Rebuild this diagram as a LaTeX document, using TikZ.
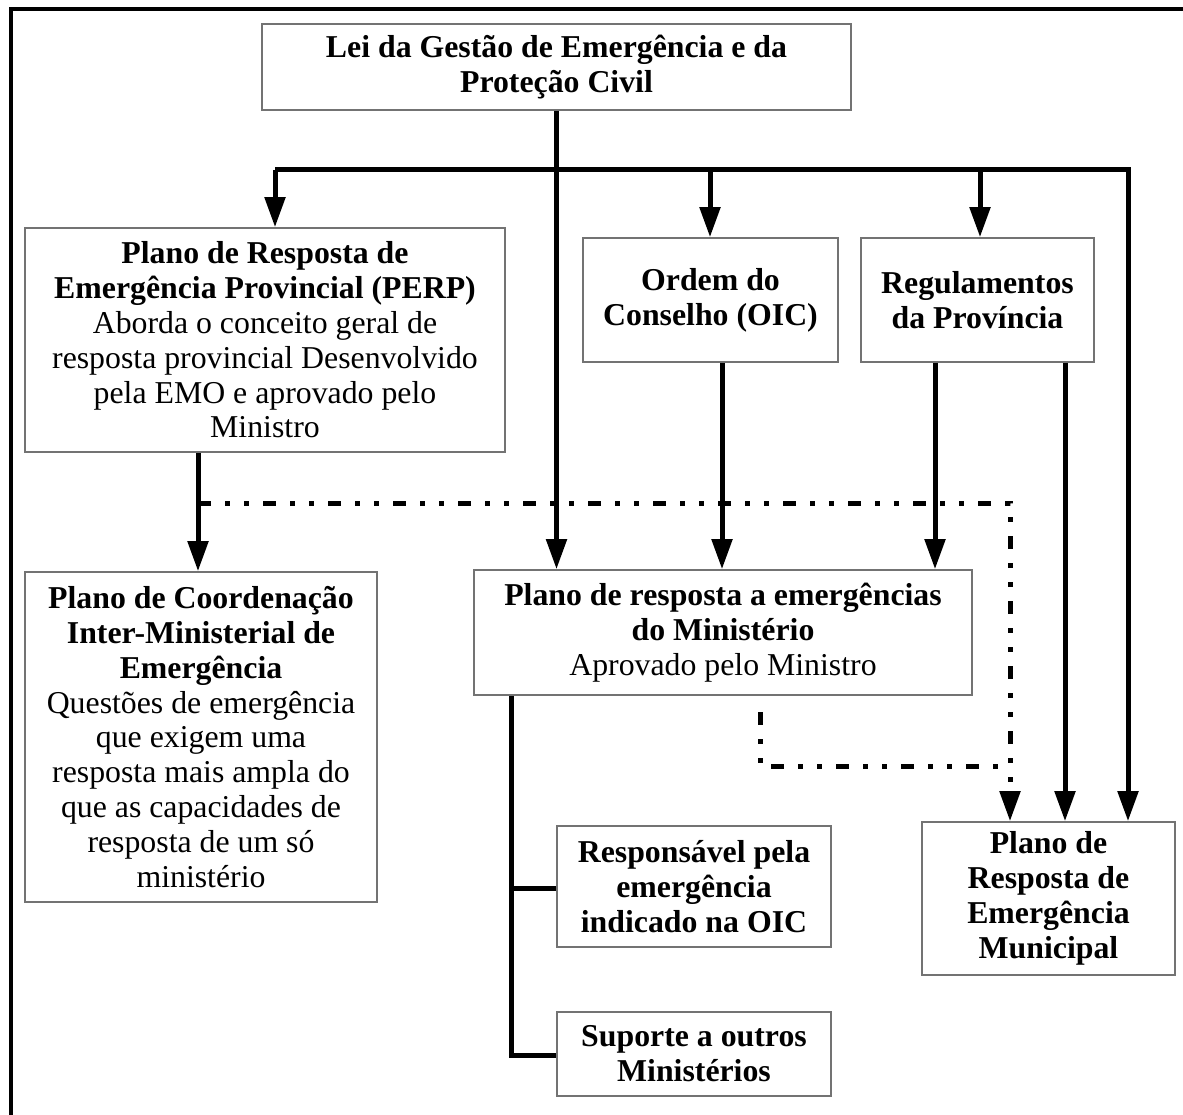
\documentclass[tikz,border=0pt]{standalone}
\usepackage{fontspec}
\setmainfont{Liberation Serif}
\usetikzlibrary{arrows.meta}
\begin{document}
\begin{tikzpicture}[x=1pt,y=-1pt,
  box/.style={draw=black!55,line width=1.6pt,fill=white,inner sep=0pt,align=center,
    font=\fontsize{31.8}{34.8}\selectfont},
  link/.style={line width=5pt,line join=miter},
  arr/.style={link,-{Triangle[width=20pt,length=30pt]}},
  dotlink/.style={line width=5pt,dash pattern=on 13pt off 14pt on 5pt off 14pt on 5pt off 14pt},
  dotarr/.style={dotlink,-{Triangle[width=20pt,length=30pt]}}]
\useasboundingbox (0,0) rectangle (1183,1115);
% frame edges
\draw[line width=4pt] (11,1115) -- (11,9) -- (1183,9);

% boxes
\node[box,minimum width=589pt,minimum height=86pt] (lei) at (556.5,67)
  {\textbf{Lei da Gestão de Emergência e da}\\\textbf{Proteção Civil}};
\node[box,minimum width=480pt,minimum height=224pt] (perp) at (265,340)
  {\textbf{Plano de Resposta de}\\\textbf{Emergência Provincial (PERP)}\\Aborda o conceito geral de\\resposta provincial Desenvolvido\\pela EMO e aprovado pelo\\Ministro};
\node[box,minimum width=255pt,minimum height=124pt] (oic) at (710.5,300)
  {\textbf{Ordem do}\\\textbf{Conselho (OIC)}};
\node[box,minimum width=233pt,minimum height=124pt] (reg) at (977.5,300)
  {\textbf{Regulamentos}\\\textbf{da Província}};
\node[box,minimum width=352pt,minimum height=330pt] (coord) at (201,737)
  {\textbf{Plano de Coordenação}\\\textbf{Inter-Ministerial de}\\\textbf{Emergência}\\Questões de emergência\\que exigem uma\\resposta mais ampla do\\que as capacidades de\\resposta de um só\\ministério};
\node[box,minimum width=498pt,minimum height=125pt] (min) at (723,632.5)
  {\textbf{Plano de resposta a emergências}\\\textbf{do Ministério}\\Aprovado pelo Ministro};
\node[box,minimum width=274pt,minimum height=121pt] (resp) at (694,886.5)
  {\textbf{Responsável pela}\\\textbf{emergência}\\\textbf{indicado na OIC}};
\node[box,minimum width=274pt,minimum height=84pt] (sup) at (694,1054)
  {\textbf{Suporte a outros}\\\textbf{Ministérios}};
\node[box,minimum width=253pt,minimum height=153pt] (muni) at (1048.5,898.5)
  {\textbf{Plano de}\\\textbf{Resposta de}\\\textbf{Emergência}\\\textbf{Municipal}};

% distribution bus below the law
\coordinate (busL) at (275,170);
\coordinate (busR) at (1128,170);
\coordinate (busO) at (710,170);
\coordinate (busG) at (980,170);
\draw[arr] (busL) -- (busL |- perp.north);
\draw[arr] (busL) -- (busR) -- (busR |- muni.north);
\draw[arr] (busO) -- (busO |- oic.north);
\draw[arr] (busG) -- (busG |- reg.north);
\draw[arr] (lei.south) -- (lei.south |- min.north);

% vertical links
\draw[arr] (perp.south -| 198,0) -- (coord.north -| 198,0);
\draw[arr] (oic.south -| 722,0) -- (min.north -| 722,0);
\draw[arr] (reg.south -| 935,0) -- (min.north -| 935,0);
\draw[arr] (reg.south -| 1065,0) -- (muni.north -| 1065,0);

% ministry branches
\coordinate (mb) at (511,1055);
\draw[link] (min.south -| mb) -- (mb) -- (mb -| sup.west);
\draw[link] (511,888) -- (resp.west |- 0,888);

% dash-dot links to the municipal plan
\coordinate (d1) at (198,503);
\coordinate (d2) at (1010,503);
\coordinate (d3) at (760,712);
\coordinate (d4) at (760,766);
\coordinate (d5) at (1010,766);
\draw[dotarr] (d1) -- (d2) -- (d2 |- muni.north);
\draw[dotlink] (d3) -- (d4) -- (d5);
\end{tikzpicture}
\end{document}
